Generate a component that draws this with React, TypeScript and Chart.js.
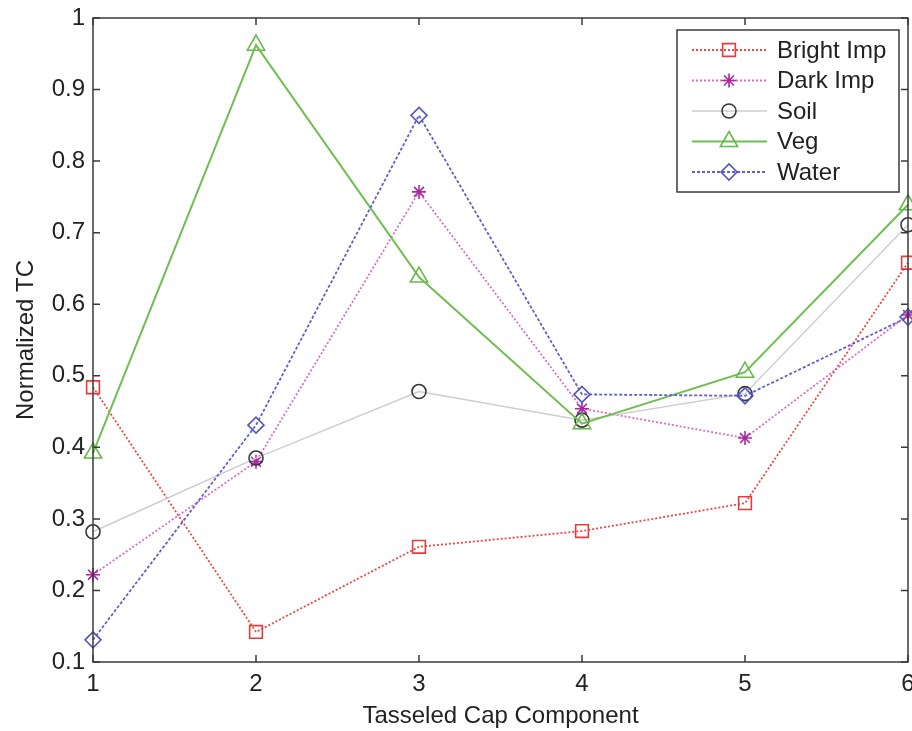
import React, { useEffect, useRef } from "react";
import { Chart, registerables } from "chart.js";
import { drawPoint } from "chart.js/helpers";

Chart.register(...registerables);

const xValues = [1, 2, 3, 4, 5, 6];
const brightImp = [0.484, 0.142, 0.261, 0.283, 0.322, 0.658];
const darkImp = [0.222, 0.38, 0.757, 0.454, 0.413, 0.585];
const soil = [0.282, 0.385, 0.478, 0.438, 0.475, 0.711];
const veg = [0.392, 0.962, 0.638, 0.433, 0.505, 0.739];
const water = [0.131, 0.431, 0.864, 0.474, 0.472, 0.582];
const seriesNames = ["Bright Imp", "Dark Imp", "Soil", "Veg", "Water"];
const xTitle = "Tasseled Cap Component";
const yTitle = "Normalized TC";

const FONT = "'Liberation Sans', Arial, sans-serif";
const TEXT = "#222";
const AXIS = "#3a3a3a";

const pts = (ys: number[]) => xValues.map((x, i) => ({ x, y: ys[i] }));

const boxTicks = {
  id: "boxTicks",
  afterDatasetsDraw(chart: any) {
    const { ctx, chartArea: a, scales } = chart;
    ctx.save();
    ctx.strokeStyle = AXIS;
    ctx.lineWidth = 1.5;
    ctx.strokeRect(a.left, a.top, a.right - a.left, a.bottom - a.top);
    const tl = 7;
    ctx.beginPath();
    scales.x.ticks.forEach((t: any) => {
      const px = scales.x.getPixelForValue(t.value);
      ctx.moveTo(px, a.bottom);
      ctx.lineTo(px, a.bottom - tl);
      ctx.moveTo(px, a.top);
      ctx.lineTo(px, a.top + tl);
    });
    scales.y.ticks.forEach((t: any) => {
      const py = scales.y.getPixelForValue(t.value);
      ctx.moveTo(a.left, py);
      ctx.lineTo(a.left + tl, py);
      ctx.moveTo(a.right, py);
      ctx.lineTo(a.right - tl, py);
    });
    ctx.stroke();

    // legend
    const bw = 222;
    const bh = 162;
    const bx = a.right - 9 - bw;
    const by = a.top + 12;
    ctx.fillStyle = "#fff";
    ctx.fillRect(bx, by, bw, bh);
    ctx.strokeStyle = AXIS;
    ctx.lineWidth = 1.5;
    ctx.strokeRect(bx, by, bw, bh);
    chart.data.datasets.forEach((ds: any, i: number) => {
      const y = by + 20 + i * 30.5;
      ctx.save();
      ctx.strokeStyle = ds.borderColor;
      ctx.lineWidth = ds.borderWidth;
      ctx.setLineDash(ds.borderDash || []);
      ctx.beginPath();
      ctx.moveTo(bx + 15, y);
      ctx.lineTo(bx + 90, y);
      ctx.stroke();
      ctx.restore();
      ctx.save();
      ctx.strokeStyle = ds.pointBorderColor;
      ctx.fillStyle = "rgba(0,0,0,0)";
      ctx.lineWidth = ds.pointBorderWidth;
      drawPoint(ctx, { pointStyle: ds.pointStyle, radius: ds.pointRadius, rotation: 0, borderWidth: ds.pointBorderWidth }, bx + 52, y);
      ctx.restore();
      ctx.fillStyle = TEXT;
      ctx.font = `24px ${FONT}`;
      ctx.textBaseline = "middle";
      ctx.textAlign = "left";
      ctx.fillText(ds.label, bx + 100, y + 1);
    });
    ctx.restore();
  },
};

export default function App() {
  const ref = useRef<HTMLCanvasElement | null>(null);
  useEffect(() => {
    document.body.style.margin = "0";
    const mk = (
      label: string,
      data: number[],
      line: string,
      marker: string,
      style: string,
      radius: number,
      dash: number[],
      width: number,
      order: number
    ) => ({
      label,
      data: pts(data),
      borderColor: line,
      borderWidth: width,
      borderDash: dash,
      pointStyle: style,
      pointRadius: radius,
      pointHoverRadius: radius,
      pointBorderColor: marker,
      pointBackgroundColor: "rgba(0,0,0,0)",
      pointBorderWidth: 1.6,
      fill: false,
      tension: 0,
      clip: false as any,
      order,
    });
    const chart = new Chart(ref.current!, {
      type: "line",
      data: {
        datasets: [
          mk(seriesNames[0], brightImp, "rgb(232,72,72)", "rgb(232,60,60)", "rect", 9, [2, 2], 1.8, 5),
          mk(seriesNames[1], darkImp, "rgb(214,110,196)", "rgb(170,40,160)", "star", 7, [2, 2], 1.8, 4),
          mk(seriesNames[2], soil, "rgb(205,205,205)", "rgb(55,55,55)", "circle", 7, [], 1.5, 3),
          mk(seriesNames[3], veg, "rgb(112,190,82)", "rgb(104,185,76)", "triangle", 10, [], 2, 2),
          mk(seriesNames[4], water, "rgb(95,95,205)", "rgb(85,85,195)", "rectRot", 8, [3, 2], 1.8, 1),
        ],
      },
      options: {
        animation: false,
        responsive: false,
        maintainAspectRatio: false,
        devicePixelRatio: 1,
        layout: { autoPadding: false, padding: { top: 18, right: 4, left: 0, bottom: 0 } },
        plugins: { legend: { display: false }, tooltip: { enabled: false } },
        scales: {
          x: {
            type: "linear",
            min: 1,
            max: 6,
            grid: { display: false, drawTicks: false },
            border: { display: false },
            ticks: { stepSize: 1, color: TEXT, font: { family: FONT, size: 24 }, padding: 8, maxRotation: 0 },
            title: { display: true, text: xTitle, color: TEXT, font: { family: FONT, size: 24 }, padding: { top: 0, bottom: 0 } },
            afterFit(s: any) {
              s.height = 69;
              s.paddingLeft = 0;
              s.paddingRight = 0;
            },
          },
          y: {
            type: "linear",
            min: 0.1,
            max: 1,
            grid: { display: false, drawTicks: false },
            border: { display: false },
            ticks: {
              stepSize: 0.1,
              color: TEXT,
              font: { family: FONT, size: 24 },
              padding: 8,
              callback: (v: any) => String(Number(Number(v).toFixed(1))),
            },
            title: { display: true, text: yTitle, color: TEXT, font: { family: FONT, size: 24 }, padding: { top: 12, bottom: 0 } },
            afterFit(s: any) {
              s.width = 93;
              s.paddingTop = 0;
              s.paddingBottom = 0;
            },
          },
        },
      },
      plugins: [boxTicks],
    });
    return () => chart.destroy();
  }, []);
  return (
    <div style={{ position: "fixed", left: 0, top: 0, width: 912, height: 731, background: "#fff" }}>
      <canvas ref={ref} width={912} height={731} style={{ display: "block", width: 912, height: 731 }} />
    </div>
  );
}
